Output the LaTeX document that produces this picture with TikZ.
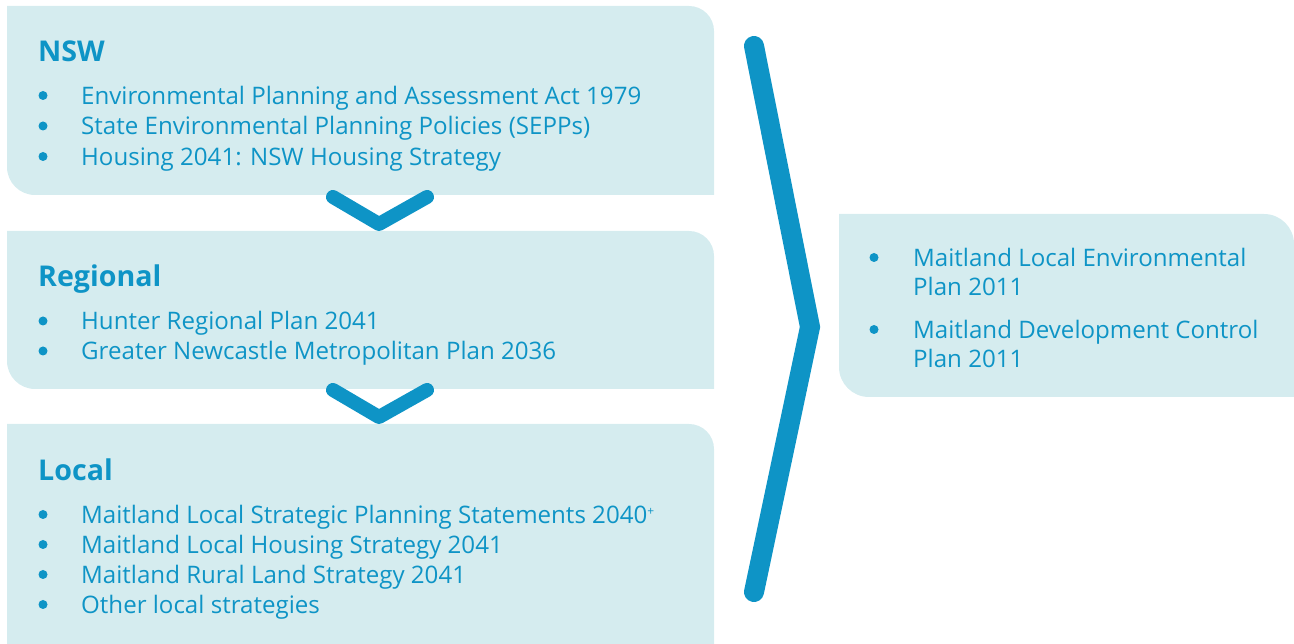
\documentclass[tikz,border=0pt]{standalone}
\usepackage{fontspec}
\setmainfont{Open Sans}
\definecolor{boxfill}{HTML}{D5ECEF}
\definecolor{ink}{HTML}{0E94C6}
\begin{document}
\begin{tikzpicture}[x=1pt,y=1pt,
  txt/.style={anchor=base west,inner sep=0pt,text=ink,font=\fontsize{24.1}{29}\selectfont},
  head/.style={anchor=base west,inner sep=0pt,text=ink,font=\fontsize{28.6}{34}\selectfont\bfseries},
  dot/.style={fill=ink,circle,inner sep=0pt,minimum size=9pt},
  chev/.style={draw=ink,line width=14pt,line cap=round,line join=round},
  bigchev/.style={draw=ink,line width=20pt,line cap=round,line join=miter}]
\useasboundingbox (0,0) rectangle (1294,643);
% boxes
\fill[boxfill] (7,637) -- (689,637) arc[start angle=90,end angle=0,radius=25] -- (714,448) -- (35,448) arc[start angle=270,end angle=180,radius=28] -- cycle;
\fill[boxfill] (7,412) -- (689,412) arc[start angle=90,end angle=0,radius=25] -- (714,254) -- (35,254) arc[start angle=270,end angle=180,radius=28] -- cycle;
\fill[boxfill] (7,219) -- (689,219) arc[start angle=90,end angle=0,radius=25] -- (714,-10) -- (7,-10) -- cycle;
\fill[boxfill] (839,429) -- (1264,429) arc[start angle=90,end angle=0,radius=30] -- (1294,246) -- (869,246) arc[start angle=270,end angle=180,radius=30] -- cycle;
% small chevrons
\coordinate (c1a) at (333,446); \coordinate (c1b) at (379,419); \coordinate (c1c) at (427,446);
\draw[chev] (c1a) -- (c1b) -- (c1c);
\coordinate (c2a) at (333,253); \coordinate (c2b) at (379,226); \coordinate (c2c) at (427,253);
\draw[chev] (c2a) -- (c2b) -- (c2c);
% big chevron
\coordinate (g1) at (754,597); \coordinate (g2) at (810,316); \coordinate (g3) at (754,51);
\draw[bigchev] (g1) -- (g2) -- (g3);
% NSW
\node[head] (nsw) at (38,581) {NSW};
\node[dot] (n1d) at (43,547.5) {}; \node[txt] (n1) at (81,538.5) {Environmental Planning and Assessment Act 1979};
\node[dot] (n2d) at (43,517) {}; \node[txt] (n2) at (81,508) {State Environmental Planning Policies (SEPPs)};
\node[dot] (n3d) at (43,486.5) {}; \node[txt] (n3) at (81,477.5) {Housing 2041: NSW Housing Strategy};
% Regional
\node[head] (reg) at (38,356) {Regional};
\node[dot] (r1d) at (43,322) {}; \node[txt] (r1) at (81,313) {Hunter Regional Plan 2041};
\node[dot] (r2d) at (43,292) {}; \node[txt] (r2) at (81,283) {Greater Newcastle Metropolitan Plan 2036};
% Local
\node[head] (loc) at (38,162) {Local};
\node[dot] (l1d) at (43,128.5) {}; \node[txt] (l1) at (81,119.5) {Maitland Local Strategic Planning Statements 2040\raisebox{8pt}{\fontsize{12}{12}\selectfont +}};
\node[dot] (l2d) at (43,98.5) {}; \node[txt] (l2) at (81,89.5) {Maitland Local Housing Strategy 2041};
\node[dot] (l3d) at (43,68.5) {}; \node[txt] (l3) at (81,59.5) {Maitland Rural Land Strategy 2041};
\node[dot] (l4d) at (43,38.5) {}; \node[txt] (l4) at (81,29.5) {Other local strategies};
% right
\node[dot] (p1d) at (874,385.5) {}; \node[txt] (p1) at (913,376.5) {Maitland Local Environmental};
\node[txt] (p1b) at (913,347.5) {Plan 2011};
\node[dot] (p2d) at (874,313.5) {}; \node[txt] (p2) at (913,304.5) {Maitland Development Control};
\node[txt] (p2b) at (913,275.5) {Plan 2011};
\end{tikzpicture}
\end{document}
